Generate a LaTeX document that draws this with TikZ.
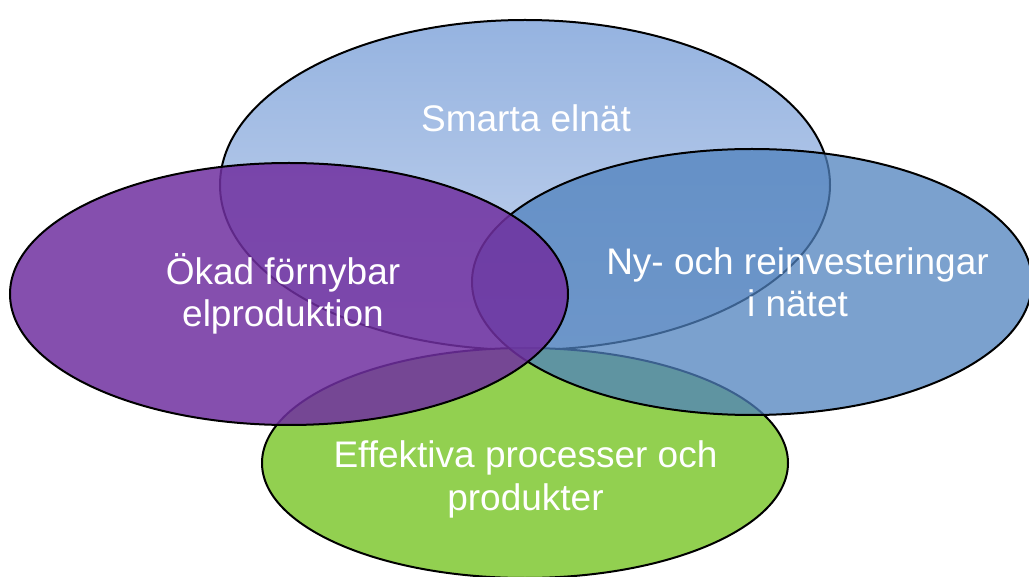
\documentclass[tikz,border=0pt]{standalone}
\usepackage{fontspec}
\setmainfont{Liberation Sans}
\usetikzlibrary{positioning}

\definecolor{smarttop}{RGB}{149,179,224}
\definecolor{smartlow}{RGB}{200,214,239}
\definecolor{fornylila}{RGB}{112,48,160}
\definecolor{natetbla}{RGB}{79,129,189}
\definecolor{processgron}{RGB}{146,208,80}

\begin{document}
\begin{tikzpicture}[x=1pt, y=-1pt,
  ring/.style={draw=black, line width=2pt},
  lbl/.style={text=white, align=center, anchor=base,
    font=\fontsize{37}{42.5}\selectfont}]
  \useasboundingbox (0,0) rectangle (1029,577);

  % Smarta elnät (bottom layer)
  \draw[ring, top color=smarttop, bottom color=smartlow]
    (525,185) ellipse [x radius=305pt, y radius=165pt];

  % Effektiva processer och produkter
  \draw[ring, fill=processgron] (525,463) ellipse [x radius=263pt, y radius=115pt];

  % Ny- och reinvesteringar i nätet
  \draw[ring, fill=natetbla, fill opacity=0.75] (752,282) ellipse [x radius=280pt, y radius=133pt];

  % Ökad förnybar elproduktion (top layer)
  \draw[ring, fill=fornylila, fill opacity=0.85] (289,294) ellipse [x radius=279pt, y radius=131pt];

  % labels (base = last line)
  \node[lbl] (smart) at (526,131.7) {Smarta elnät};
  \node[lbl] (fornybar) at (283,326.7) {Ökad förnybar\\elproduktion};
  \node[lbl] (natet) at (797.5,316.7) {Ny- och reinvesteringar\\i nätet};
  \node[lbl] (process) at (525.5,510) {Effektiva processer och\\produkter};
\end{tikzpicture}
\end{document}
